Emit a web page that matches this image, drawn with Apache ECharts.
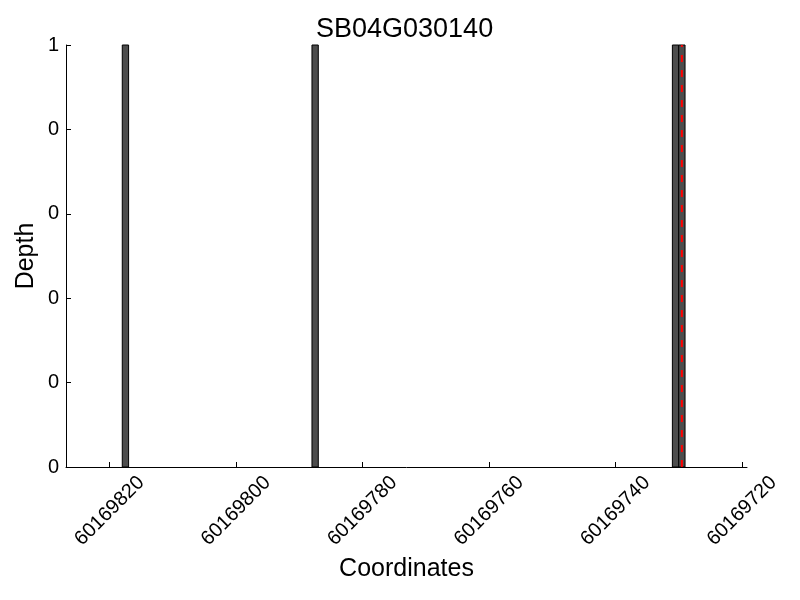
<!DOCTYPE html>
<html>
<head>
<meta charset="utf-8">
<script src="https://cdn.jsdelivr.net/npm/echarts@6/dist/echarts.min.js"></script>
<style>html,body{margin:0;padding:0;background:#fff}#c{width:800px;height:600px}</style>
</head>
<body>
<div id="c"></div>
<script>
var title = 'SB04G030140';
var barStarts = [60169817, 60169787, 60169730, 60169729];
var barDepths = [1, 1, 1, 1];
var barWidthUnits = 1;
var markerPos = [60169729.5];
var xTicks = [60169820, 60169800, 60169780, 60169760, 60169740, 60169720];
var yTicks = [0, 0.2, 0.4, 0.6, 0.8, 1];

var font = '"Liberation Sans", Arial, sans-serif';
var chart = echarts.init(document.getElementById('c'));
var barData = barStarts.map(function (s, i) { return [s, s + barWidthUnits, barDepths[i]]; });

chart.setOption({
  animation: false,
  title: {text: title, left: 311, top: 11, textStyle: {fontFamily: font, fontSize: 27, fontWeight: 'normal', color: '#000'}},
  grid: {left: 66, right: 53, top: 45, bottom: 133},
  xAxis: {
    type: 'value', inverse: true, min: 60169719.2, max: 60169826.9,
    name: 'Coordinates', nameLocation: 'middle', nameGap: 89,
    nameTextStyle: {fontFamily: font, fontSize: 25, color: '#000'},
    axisLine: {show: true, lineStyle: {color: '#000', width: 1}},
    axisTick: {show: true, inside: true, length: 5, customValues: xTicks, lineStyle: {color: '#000'}},
    axisLabel: {customValues: xTicks, rotate: 45, align: 'center', verticalAlign: 'middle',
      fontFamily: font, fontSize: 20, color: '#000', margin: 44,
      formatter: function (v) { return String(Math.round(v)); }},
    splitLine: {show: false}
  },
  yAxis: {
    type: 'value', min: 0, max: 1, interval: 0.2,
    name: 'Depth', nameLocation: 'middle', nameGap: 27, nameRotate: 90, nameMoveOverlap: false,
    nameTextStyle: {fontFamily: font, fontSize: 25, color: '#000'},
    axisLine: {show: true, lineStyle: {color: '#000', width: 1}},
    axisTick: {show: true, inside: true, length: 5, lineStyle: {color: '#000'}},
    axisLabel: {fontFamily: font, fontSize: 20, color: '#000', margin: 7,
      formatter: function (v) { return String(Math.floor(v + 1e-9)); }},
    splitLine: {show: false}
  },
  series: [
    {
      type: 'custom',
      data: barData,
      encode: {x: [0, 1], y: 2},
      renderItem: function (params, api) {
        var p0 = api.coord([api.value(0), 0]);
        var p1 = api.coord([api.value(1), api.value(2)]);
        var x = Math.min(p0[0], p1[0]);
        var w = Math.abs(p1[0] - p0[0]);
        return {
          type: 'rect',
          shape: {x: x, y: p1[1], width: w, height: p0[1] - p1[1]},
          style: {fill: '#4d4d4d', stroke: '#000', lineWidth: 1}
        };
      },
      z: 2
    },
    {
      type: 'line',
      data: [[markerPos[0], 0], [markerPos[0], 1]],
      symbol: 'none',
      lineStyle: {color: '#ff0000', width: 2, type: [7, 8]},
      z: 3
    }
  ]
});
</script>
</body>
</html>
